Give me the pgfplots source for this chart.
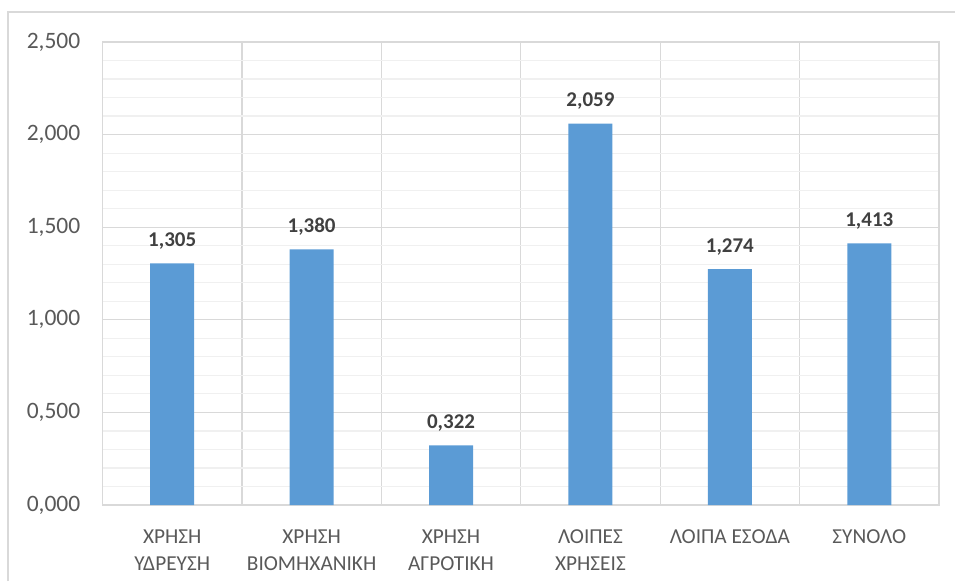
\documentclass[border=0pt]{standalone}
\usepackage{pgfplots}
\pgfplotsset{compat=1.18}
\usepackage{fontspec}
\setmainfont{Carlito}
\definecolor{barblue}{HTML}{5B9BD5}
\definecolor{majgrid}{HTML}{D9D9D9}
\definecolor{mingrid}{HTML}{F0F0F0}
\definecolor{ticktext}{HTML}{595959}
\definecolor{labtext}{HTML}{404040}
\begin{document}
\begin{tikzpicture}[x=1pt,y=1pt]
\path[use as bounding box] (0,0) rectangle (955,581);
\draw[majgrid, line width=1.2pt] (8,0) -- (8,569) -- (955,569);
\begin{axis}[
  at={(102.5pt,76pt)}, anchor=south west,
  scale only axis,
  width=836.5pt, height=463pt,
  ybar, bar width=44pt,
  xmin=-0.5, xmax=5.5,
  ymin=0, ymax=2.5,
  xtick={0,...,5},
  xticklabels={{ΧΡΗΣΗ\\ΥΔΡΕΥΣΗ},{ΧΡΗΣΗ\\ΒΙΟΜΗΧΑΝΙΚΗ},{ΧΡΗΣΗ\\ΑΓΡΟΤΙΚΗ},{ΛΟΙΠΕΣ\\ΧΡΗΣΕΙΣ},{ΛΟΙΠΑ ΕΣΟΔΑ},{ΣΥΝΟΛΟ}},
  minor xtick={0.5,1.5,2.5,3.5,4.5},
  ytick={0,0.5,...,2.5},
  minor ytick={0.1,0.2,0.3,0.4,0.6,0.7,0.8,0.9,1.1,1.2,1.3,1.4,1.6,1.7,1.8,1.9,2.1,2.2,2.3,2.4},
  xminorgrids, ymajorgrids, yminorgrids,
  minor x grid style={majgrid, line width=1.2pt},
  major y grid style={majgrid, line width=1.2pt},
  minor y grid style={mingrid, line width=1.2pt},
  axis line style={majgrid, line width=1.2pt},
  tick style={draw=none},
  /pgf/number format/.cd, use comma, fixed, fixed zerofill, precision=3, 1000 sep={}, assume math mode=true,
  /pgfplots/.cd,
  yticklabel style={font=\fontsize{23.5}{27}\selectfont, text=ticktext, anchor=east, inner sep=0pt, xshift=-22pt},
  xticklabel style={font=\fontsize{21.3}{27}\selectfont, text=ticktext, align=center, anchor=north, inner sep=0pt, yshift=-20pt},
  nodes near coords,
  nodes near coords style={font=\bfseries\fontsize{21}{24}\selectfont, text=labtext, anchor=south, inner sep=0pt, yshift=14pt},
]
\addplot[fill=barblue, draw=none] coordinates {
  (0,1.305) (1,1.380) (2,0.322) (3,2.059) (4,1.274) (5,1.413)
};
\end{axis}
\end{tikzpicture}
\end{document}
